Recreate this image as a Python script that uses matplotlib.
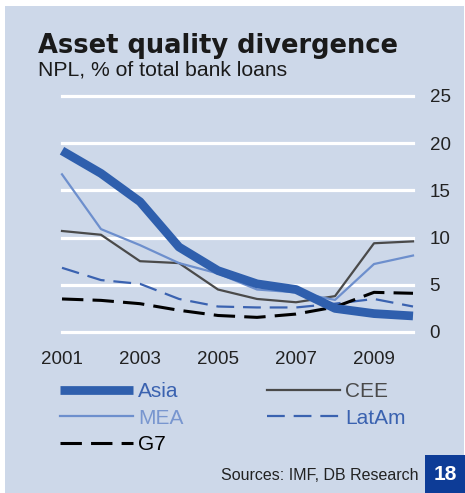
import matplotlib
matplotlib.use("Agg")
import matplotlib.pyplot as plt
from matplotlib.patches import Rectangle

plt.rcParams['font.family'] = ['Liberation Sans', 'DejaVu Sans']

years = [2001, 2002, 2003, 2004, 2005, 2006, 2007, 2008, 2009, 2010]
asia = [19.2, 16.8, 13.8, 9.0, 6.5, 5.1, 4.5, 2.5, 1.95, 1.7]
cee = [10.7, 10.3, 7.5, 7.3, 4.5, 3.5, 3.15, 3.8, 9.4, 9.6]
mea = [16.7, 10.9, 9.2, 7.3, 6.2, 4.5, 4.2, 3.4, 7.2, 8.1]
latam = [6.8, 5.5, 5.1, 3.5, 2.7, 2.6, 2.6, 3.0, 3.5, 2.7]
g7 = [3.5, 3.35, 3.0, 2.3, 1.75, 1.55, 1.9, 2.65, 4.2, 4.1]
xticks = [2001, 2003, 2005, 2007, 2009]
yticks = [0, 5, 10, 15, 20, 25]

W, H = 465, 493
BG = '#cdd8e9'
fig = plt.figure(figsize=(W / 100, H / 100), dpi=100)
fig.patch.set_facecolor('white')
fig.add_artist(Rectangle((5 / W, 0), (464 - 5) / W, (H - 6) / H,
                         transform=fig.transFigure, facecolor=BG,
                         edgecolor='none', zorder=0))

x0, x1 = 62, 413
y0, y1 = 332, 96
ax = fig.add_axes([x0 / W, 1 - y0 / H, (x1 - x0) / W, (y0 - y1) / H])
ax.set_facecolor('none')
ax.set_xlim(2001, 2010)
ax.set_ylim(0, 25)
for s in ax.spines.values():
    s.set_visible(False)
for v in yticks:
    ax.axhline(v, color='white', lw=2.3, zorder=1, clip_on=False)

l_cee, = ax.plot(years, cee, color='#4a4a4a', lw=1.6, zorder=3, clip_on=False)
l_mea, = ax.plot(years, mea, color='#6d8fcd', lw=1.6, zorder=3, clip_on=False)
l_lat, = ax.plot(years, latam, color='#3a62b0', lw=1.6, dashes=(8, 4), zorder=3, clip_on=False)
l_g7, = ax.plot(years, g7, color='black', lw=2.2, dashes=(7, 3), zorder=3, clip_on=False)
l_asia, = ax.plot(years, asia, color='#2f5fad', lw=6.3, solid_capstyle='butt', zorder=4, clip_on=False)

ax.set_xticks(xticks)
ax.set_xticklabels([str(t) for t in xticks], fontsize=13.5, color='#222222')
ax.set_yticks(yticks)
ax.set_yticklabels([str(t) for t in yticks], fontsize=13.5, color='#222222', ha='left')
ax.yaxis.tick_right()
ax.tick_params(axis='both', length=0)
ax.tick_params(axis='y', pad=12)
ax.tick_params(axis='x', pad=14)

fig.text(38 / W, 1 - 53 / H, 'Asset quality divergence', fontsize=18.5,
         fontweight='bold', family='DejaVu Sans', color='#1a1a1a',
         va='baseline', ha='left')
fig.text(38 / W, 1 - 76 / H, 'NPL, % of total bank loans', fontsize=15.2,
         color='#1a1a1a', va='baseline', ha='left')

handles = [l_asia, l_mea, l_g7, l_cee, l_lat]
labels = ['Asia', 'MEA', 'G7', 'CEE', 'LatAm']
leg = fig.legend(handles, labels, ncol=2, loc='upper left',
                 bbox_to_anchor=(60 / W, 1 - 382 / H), frameon=False,
                 borderpad=0, borderaxespad=0,
                 fontsize=15, handlelength=3.5, handletextpad=0.25,
                 columnspacing=4.0, labelspacing=0.36,
                 labelcolor=['#3a62b0', '#7896cf', 'black', '#4a4a4a', '#3a62b0'])

fig.text(418 / W, 1 - 475 / H, 'Sources: IMF, DB Research', fontsize=11.5,
         color='#222222', ha='right', va='center')
fig.add_artist(Rectangle((425 / W, 0), (465 - 425) / W, (493 - 455) / H,
                         transform=fig.transFigure, facecolor='#0d3c97',
                         edgecolor='none', zorder=1))
fig.text(445 / W, 1 - 474 / H, '18', fontsize=15, fontweight='bold',
         color='white', ha='center', va='center', zorder=2)

fig.savefig('out.png', dpi=100, facecolor=fig.get_facecolor())
